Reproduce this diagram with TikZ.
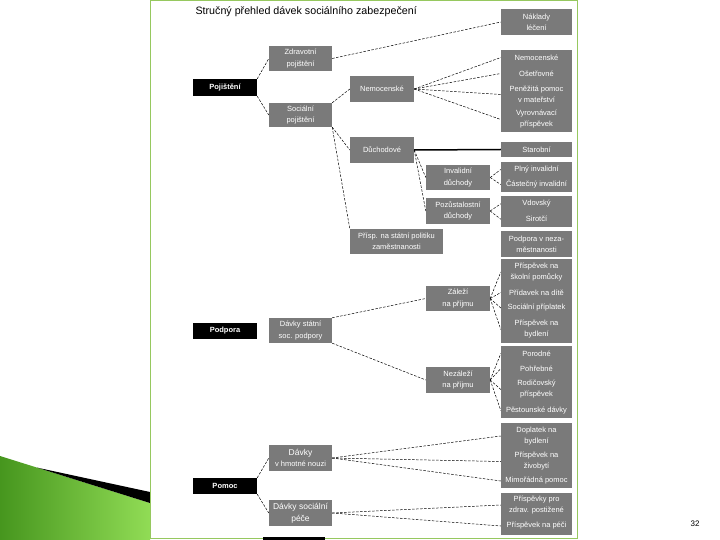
\documentclass[tikz,border=0pt]{standalone}
\usepackage{fontspec}
\setmainfont{Liberation Sans}
\definecolor{boxgray}{RGB}{122,122,122}
\definecolor{framegreen}{RGB}{150,200,95}
\definecolor{leafdark}{RGB}{70,150,30}
\definecolor{leaflight}{RGB}{145,220,85}

\begin{document}
\begin{tikzpicture}[x=1pt,y=-1pt,
	item/.style={fill=boxgray,text=white,minimum width=71pt,inner sep=0pt,align=center,font=\fontsize{7.5}{11}\selectfont},
	mid/.style={fill=boxgray,text=white,inner sep=0pt,align=center,font=\fontsize{7.5}{11.5}\selectfont},
	head/.style={fill=black,text=white,minimum width=64pt,inner sep=0pt,font=\bfseries\fontsize{7.5}{9}\selectfont},
	link/.style={dash pattern=on 2.5pt off 1.5pt,line width=0.5pt}]
			\useasboundingbox (0,0) rectangle (720,540);
			% slide decoration
			\shade[left color=leafdark,right color=leaflight] (0,456) -- (150,503) -- (150,540) -- (0,540) -- cycle;
			\fill[black] (37,467.6) -- (150,492) -- (150,503) -- cycle;
			\draw[framegreen,line width=1pt] (150,1) rectangle (577,538);
			\fill[black] (263,537) rectangle (325,540);
			% title
			\node[anchor=west,font=\fontsize{10.7}{12}\selectfont] (title) at (192,12) {Stručný přehled dávek sociálního zabezpečení};
			\node[font=\fontsize{8}{10}\selectfont] (pgnum) at (695,524) {32};
			% main groups
			\node[head,minimum height=17pt] (poj) at (225,87.5) {Pojištění};
			\node[head,minimum height=16pt] (podp) at (225,331) {Podpora};
			\node[head,minimum height=16pt] (pomoc) at (225,486) {Pomoc};
			% middle boxes
			\node[mid,minimum width=63pt,minimum height=25pt] (zdrav) at (300.5,58.5) {Zdravotní\\pojištění};
			\node[mid,minimum width=63pt,minimum height=24pt] (socp) at (300.5,115) {Sociální\\pojištění};
			\node[mid,minimum width=64pt,minimum height=26pt] (nemoc) at (382,89) {Nemocenské};
			\node[mid,minimum width=64pt,minimum height=26pt] (duch) at (382,150) {Důchodové};
			\node[mid,minimum width=64pt,minimum height=25pt] (inv) at (458,177.5) {Invalidní\\důchody};
			\node[mid,minimum width=64pt,minimum height=26pt] (poz) at (458,211) {Pozůstalostní\\důchody};
			\node[mid,minimum width=93pt,minimum height=25pt] (prisp) at (396.5,241.5) {Přísp. na státní politiku\\zaměstnanosti};
			\node[mid,minimum width=63pt,minimum height=25pt] (dss) at (300.5,330.5) {Dávky státní\\soc. podpory};
			\node[mid,minimum width=64pt,minimum height=25pt] (zal) at (458,298.5) {Záleží\\na příjmu};
			\node[mid,minimum width=64pt,minimum height=26pt] (nezal) at (458,380) {Nezáleží\\na příjmu};
			\node[mid,minimum width=63pt,minimum height=26pt] (hmot) at (300.5,458) {{\fontsize{8.5}{11.5}\selectfont Dávky}\\v hmotné nouzi};
			\node[mid,minimum width=63pt,minimum height=26pt,font=\fontsize{8.5}{11.5}\selectfont] (pece) at (300.5,513) {Dávky sociální\\péče};
			% right column
			\node[item,minimum height=26pt] (nakl) at (536.5,22) {Náklady\\léčení};
			\node[item,minimum height=15pt] (nem1) at (536.5,57.5) {Nemocenské};
			\node[item,minimum height=17pt] (nem2) at (536.5,73.5) {Ošetřovné};
			\node[item,minimum height=25pt] (nem3) at (536.5,94.5) {Peněžitá pomoc\\v mateřství};
			\node[item,minimum height=25pt] (nem4) at (536.5,119.5) {Vyrovnávací\\příspěvek};
			\node[item,minimum height=15pt] (star) at (536.5,149.5) {Starobní};
			\node[item,minimum height=15pt] (inv1) at (536.5,169.5) {Plný invalidní};
			\node[item,minimum height=15pt] (inv2) at (536.5,184.5) {Částečný invalidní};
			\node[item,minimum height=15.5pt] (poz1) at (536.5,203.75) {Vdovský};
			\node[item,minimum height=15.5pt] (poz2) at (536.5,219.25) {Sirotčí};
			\node[item,minimum height=26pt] (nezam) at (536.5,244) {Podpora v neza-\\městnanosti};
			\node[item,minimum height=26pt] (zal1) at (536.5,272) {Příspěvek na\\školní pomůcky};
			\node[item,minimum height=15pt] (zal2) at (536.5,292.5) {Přídavek na dítě};
			\node[item,minimum height=16pt] (zal3) at (536.5,308) {Sociální příplatek};
			\node[item,minimum height=27pt] (zal4) at (536.5,329.5) {Příspěvek na\\bydlení};
			\node[item,minimum height=15pt] (nez1) at (536.5,353.5) {Porodné};
			\node[item,minimum height=15pt] (nez2) at (536.5,368.5) {Pohřebné};
			\node[item,minimum height=27pt] (nez3) at (536.5,389.5) {Rodičovský\\příspěvek};
			\node[item,minimum height=15pt] (nez4) at (536.5,410.5) {Pěstounské dávky};
			\node[item,minimum height=26pt] (hmo1) at (536.5,436) {Doplatek na\\bydlení};
			\node[item,minimum height=25pt] (hmo2) at (536.5,461.5) {Příspěvek na\\živobytí};
			\node[item,minimum height=14pt] (hmo3) at (536.5,481) {Mimořádná pomoc};
			\node[item,minimum height=24pt] (pec1) at (536.5,505) {Příspěvky pro\\zdrav. postižené};
			\node[item,minimum height=18pt] (pec2) at (536.5,526) {Příspěvek na péči};
			% connectors
			\draw[link] (poj.north east) -- (zdrav.west);
			\draw[link] (poj.south east) -- (socp.west);
			\draw[link] (zdrav.east) -- (nakl.west);
			\draw[link] (socp.north east) -- (nemoc.west);
			\draw[link] (socp.south east) -- (duch.west);
			\draw[link] (socp.south east) -- (prisp.north west);
			\foreach \t in {nem1,nem2,nem3,nem4}
				\draw[link] (nemoc.east) -- (\t.west);
			\draw[line width=1.5pt] (duch.east) -- (star.west);
			\draw[link] (duch.east) -- (inv.west);
			\draw[link] (duch.east) -- (poz.west);
			\foreach \t in {inv1,inv2}
				\draw[link] (inv.east) -- (\t.west);
			\foreach \t in {poz1,poz2}
				\draw[link] (poz.east) -- (\t.west);
			\draw[link] (dss.north east) -- (zal.west);
			\draw[link] (dss.south east) -- (nezal.west);
			\foreach \t in {zal1,zal2,zal3,zal4}
				\draw[link] (zal.east) -- (\t.west);
			\foreach \t in {nez1,nez2,nez3,nez4}
				\draw[link] (nezal.east) -- (\t.west);
			\draw[link] (pomoc.north east) -- (hmot.west);
			\draw[link] (pomoc.south east) -- (pece.west);
			\foreach \t in {hmo1,hmo2,hmo3}
				\draw[link] (hmot.east) -- (\t.west);
			\foreach \t in {pec1,pec2}
				\draw[link] (pece.east) -- (\t.west);
		\end{tikzpicture}
\end{document}
